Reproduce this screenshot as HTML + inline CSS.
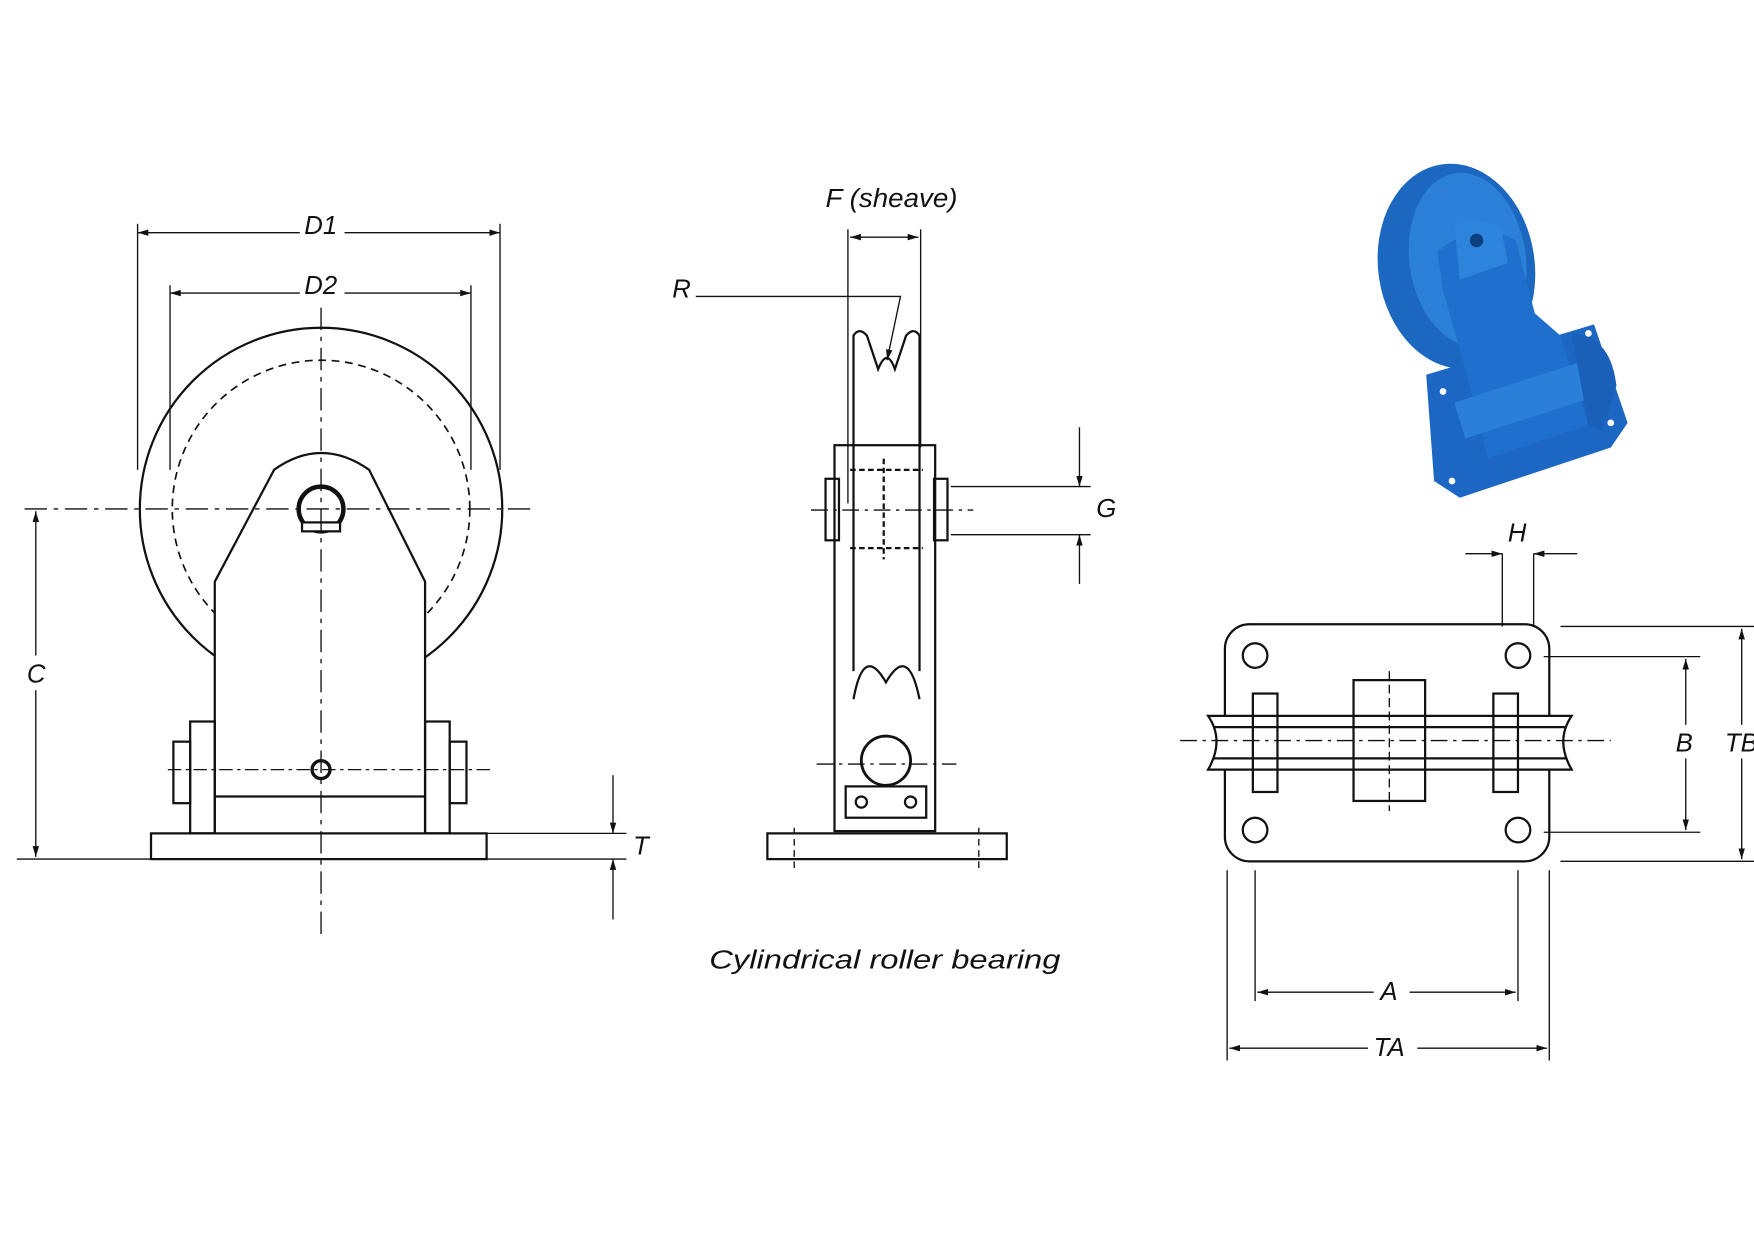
<!DOCTYPE html>
<html><head><meta charset="utf-8"><style>
html,body{margin:0;padding:0;background:#fff;}
svg{display:block;}
text{font-family:"Liberation Sans",sans-serif;font-style:italic;fill:#111;}
</style></head><body>
<svg width="1754" height="1240" viewBox="0 0 1568 1108.5" preserveAspectRatio="none" xmlns="http://www.w3.org/2000/svg">
<defs>
<marker id="a" viewBox="0 0 10 10" refX="10" refY="5" markerWidth="8" markerHeight="8" orient="auto-start-reverse"><path d="M0,2 L10,5 L0,8 z" fill="#111"/></marker>
</defs>
<rect width="1568" height="1109" fill="#fff"/>
<g stroke="#111" fill="none" stroke-width="2">
<circle cx="287" cy="455" r="162"/>
<circle cx="287" cy="455" r="133" stroke-dasharray="7,5" stroke-width="1.5"/>
<path d="M192,745 V520 L245,420 Q287,390 330,420 L380,520 V745" fill="#fff"/>
<circle cx="287" cy="455" r="20" stroke-width="4"/>
<rect x="270" y="467" width="34" height="8" fill="#fff"/>
<rect x="170" y="645" width="22" height="100"/>
<rect x="380" y="645" width="22" height="100"/>
<rect x="155" y="663" width="15" height="55"/>
<rect x="402" y="663" width="15" height="55"/>
<line x1="150" y1="688" x2="440" y2="688" stroke-dasharray="12,4,3,4" stroke-width="1.2"/>
<line x1="192" y1="712" x2="380" y2="712"/>
<circle cx="287" cy="688" r="8" stroke-width="3"/>
<rect x="135" y="745" width="300" height="23"/>
<line x1="287" y1="275" x2="287" y2="840" stroke-dasharray="20,6,4,6" stroke-width="1.2"/>
<line x1="22" y1="455" x2="480" y2="455" stroke-dasharray="20,6,4,6" stroke-width="1.2"/>
<line x1="123" y1="200" x2="123" y2="420" stroke-width="1.2"/>
<line x1="447" y1="200" x2="447" y2="420" stroke-width="1.2"/>
<line x1="123" y1="208" x2="268" y2="208" stroke-width="1.2" marker-start="url(#a)"/>
<line x1="308" y1="208" x2="447" y2="208" stroke-width="1.2" marker-end="url(#a)"/>
<line x1="152" y1="255" x2="152" y2="420" stroke-width="1.2"/>
<line x1="421" y1="255" x2="421" y2="420" stroke-width="1.2"/>
<line x1="152" y1="262" x2="268" y2="262" stroke-width="1.2" marker-start="url(#a)"/>
<line x1="308" y1="262" x2="421" y2="262" stroke-width="1.2" marker-end="url(#a)"/>
<line x1="32" y1="457" x2="32" y2="586" stroke-width="1.2" marker-start="url(#a)"/>
<line x1="32" y1="617" x2="32" y2="766" stroke-width="1.2" marker-end="url(#a)"/>
<line x1="15" y1="768" x2="135" y2="768" stroke-width="1.2"/>
<line x1="435" y1="745" x2="560" y2="745" stroke-width="1.2"/>
<line x1="435" y1="768" x2="560" y2="768" stroke-width="1.2"/>
<line x1="548" y1="693" x2="548" y2="745" stroke-width="1.2" marker-end="url(#a)"/>
<line x1="548" y1="822" x2="548" y2="768" stroke-width="1.2" marker-end="url(#a)"/>
<path d="M763,600 V300 Q768,292 775,300 L785,330 Q793,310 800,330 L810,300 Q817,292 822,300 V600"/>
<line x1="758" y1="205" x2="758" y2="450" stroke-width="1.2"/>
<line x1="823" y1="205" x2="823" y2="400" stroke-width="1.2"/>
<line x1="760" y1="212" x2="821" y2="212" stroke-width="1.2" marker-start="url(#a)" marker-end="url(#a)"/>
<path d="M622,265 H805 L793,322" stroke-width="1.2" marker-end="url(#a)"/>
<rect x="746" y="398" width="90" height="345" fill="none"/>
<path d="M763,625 Q772,575 792,610 Q812,575 822,625"/>
<rect x="738" y="428" width="12" height="55"/>
<rect x="835" y="428" width="12" height="55"/>
<line x1="760" y1="420" x2="825" y2="420" stroke-dasharray="5,3"/>
<line x1="760" y1="490" x2="825" y2="490" stroke-dasharray="5,3"/>
<line x1="790" y1="410" x2="790" y2="500" stroke-dasharray="5,3"/>
<line x1="725" y1="456" x2="870" y2="456" stroke-dasharray="15,5,3,5" stroke-width="1.2"/>
<circle cx="792" cy="680" r="22" stroke-width="2.5"/>
<line x1="730" y1="683" x2="855" y2="683" stroke-dasharray="15,5,3,5" stroke-width="1.2"/>
<rect x="756" y="703" width="72" height="28"/>
<circle cx="770" cy="717" r="5"/><circle cx="814" cy="717" r="5"/>
<rect x="686" y="745" width="214" height="23"/>
<line x1="710" y1="740" x2="710" y2="780" stroke-dasharray="6,4" stroke-width="1.2"/>
<line x1="875" y1="740" x2="875" y2="780" stroke-dasharray="6,4" stroke-width="1.2"/>
<line x1="850" y1="435" x2="975" y2="435" stroke-width="1.2"/>
<line x1="850" y1="478" x2="975" y2="478" stroke-width="1.2"/>
<line x1="965" y1="382" x2="965" y2="435" stroke-width="1.2" marker-end="url(#a)"/>
<line x1="965" y1="522" x2="965" y2="478" stroke-width="1.2" marker-end="url(#a)"/>
<rect x="1095" y="558" width="290" height="212" rx="22"/>
<circle cx="1122" cy="586" r="11"/><circle cx="1357" cy="586" r="11"/>
<circle cx="1122" cy="742" r="11"/><circle cx="1357" cy="742" r="11"/>
<path d="M1080,640 H1405 Q1390,662 1405,688 H1080 Q1095,662 1080,640 Z" fill="#fff"/>
<line x1="1085" y1="650" x2="1400" y2="650"/>
<line x1="1085" y1="678" x2="1400" y2="678"/>
<rect x="1120" y="620" width="22" height="88"/>
<rect x="1335" y="620" width="22" height="88"/>
<rect x="1210" y="608" width="64" height="108"/>
<line x1="1055" y1="662" x2="1440" y2="662" stroke-dasharray="15,5,3,5" stroke-width="1.2"/>
<line x1="1242" y1="600" x2="1242" y2="725" stroke-dasharray="8,4" stroke-width="1.2"/>
<line x1="1343" y1="495" x2="1343" y2="560" stroke-width="1.2"/>
<line x1="1371" y1="495" x2="1371" y2="560" stroke-width="1.2"/>
<line x1="1310" y1="495" x2="1343" y2="495" stroke-width="1.2" marker-end="url(#a)"/>
<line x1="1410" y1="495" x2="1371" y2="495" stroke-width="1.2" marker-end="url(#a)"/>
<line x1="1395" y1="560" x2="1568" y2="560" stroke-width="1.2"/>
<line x1="1395" y1="770" x2="1568" y2="770" stroke-width="1.2"/>
<line x1="1380" y1="587" x2="1520" y2="587" stroke-width="1.2"/>
<line x1="1380" y1="744" x2="1520" y2="744" stroke-width="1.2"/>
<line x1="1507" y1="589" x2="1507" y2="648" stroke-width="1.2" marker-start="url(#a)"/>
<line x1="1507" y1="678" x2="1507" y2="742" stroke-width="1.2" marker-end="url(#a)"/>
<line x1="1557" y1="562" x2="1557" y2="648" stroke-width="1.2" marker-start="url(#a)"/>
<line x1="1557" y1="678" x2="1557" y2="768" stroke-width="1.2" marker-end="url(#a)"/>
<line x1="1122" y1="778" x2="1122" y2="895" stroke-width="1.2"/>
<line x1="1357" y1="778" x2="1357" y2="895" stroke-width="1.2"/>
<line x1="1097" y1="778" x2="1097" y2="948" stroke-width="1.2"/>
<line x1="1385" y1="778" x2="1385" y2="948" stroke-width="1.2"/>
<line x1="1124" y1="887" x2="1228" y2="887" stroke-width="1.2" marker-start="url(#a)"/>
<line x1="1260" y1="887" x2="1355" y2="887" stroke-width="1.2" marker-end="url(#a)"/>
<line x1="1099" y1="937" x2="1223" y2="937" stroke-width="1.2" marker-start="url(#a)"/>
<line x1="1267" y1="937" x2="1383" y2="937" stroke-width="1.2" marker-end="url(#a)"/>
</g>
<!-- PHOTO -->
<g>
<path d="M1275,335 L1425,290 L1455,378 L1440,400 L1305,445 L1282,430 Z" fill="#1c66c4"/>
<ellipse cx="1302" cy="238" rx="70" ry="92" fill="#1c68c0" transform="rotate(-8 1302 238)"/>
<ellipse cx="1312" cy="232" rx="52" ry="78" fill="#2b80d8" transform="rotate(-8 1312 232)"/>
<path d="M1285,225 Q1320,195 1355,215 L1372,280 L1395,300 L1420,380 L1330,410 L1310,330 L1290,260 Z" fill="#1f70ce"/>
<path d="M1300,200 Q1320,190 1342,205 L1348,235 L1305,250 Z" fill="#2c84db"/>
<circle cx="1320" cy="215" r="6" fill="#0d3f80"/>
<path d="M1300,360 L1430,318 L1440,350 L1310,392 Z" fill="#2a7fd8"/>
<path d="M1405,298 Q1440,300 1445,345 L1432,385 L1420,380 Z" fill="#1a5fb8"/>
<circle cx="1290" cy="350" r="3" fill="#fff"/><circle cx="1440" cy="378" r="3" fill="#fff"/>
<circle cx="1420" cy="298" r="3" fill="#fff"/><circle cx="1298" cy="430" r="3" fill="#fff"/>
</g>
<g font-size="23">
<text x="272" y="209">D1</text>
<text x="272" y="263">D2</text>
<text x="24" y="610">C</text>
<text x="566" y="764">T</text>
<text x="738" y="185" textLength="118" lengthAdjust="spacingAndGlyphs">F (sheave)</text>
<text x="601" y="266">R</text>
<text x="980" y="462">G</text>
<text x="634" y="866" textLength="314" lengthAdjust="spacingAndGlyphs">Cylindrical roller bearing</text>
<text x="1348" y="484">H</text>
<text x="1498" y="672">B</text>
<text x="1542" y="672">TB</text>
<text x="1234" y="894">A</text>
<text x="1228" y="944">TA</text>
</g>
</svg>
</body></html>
